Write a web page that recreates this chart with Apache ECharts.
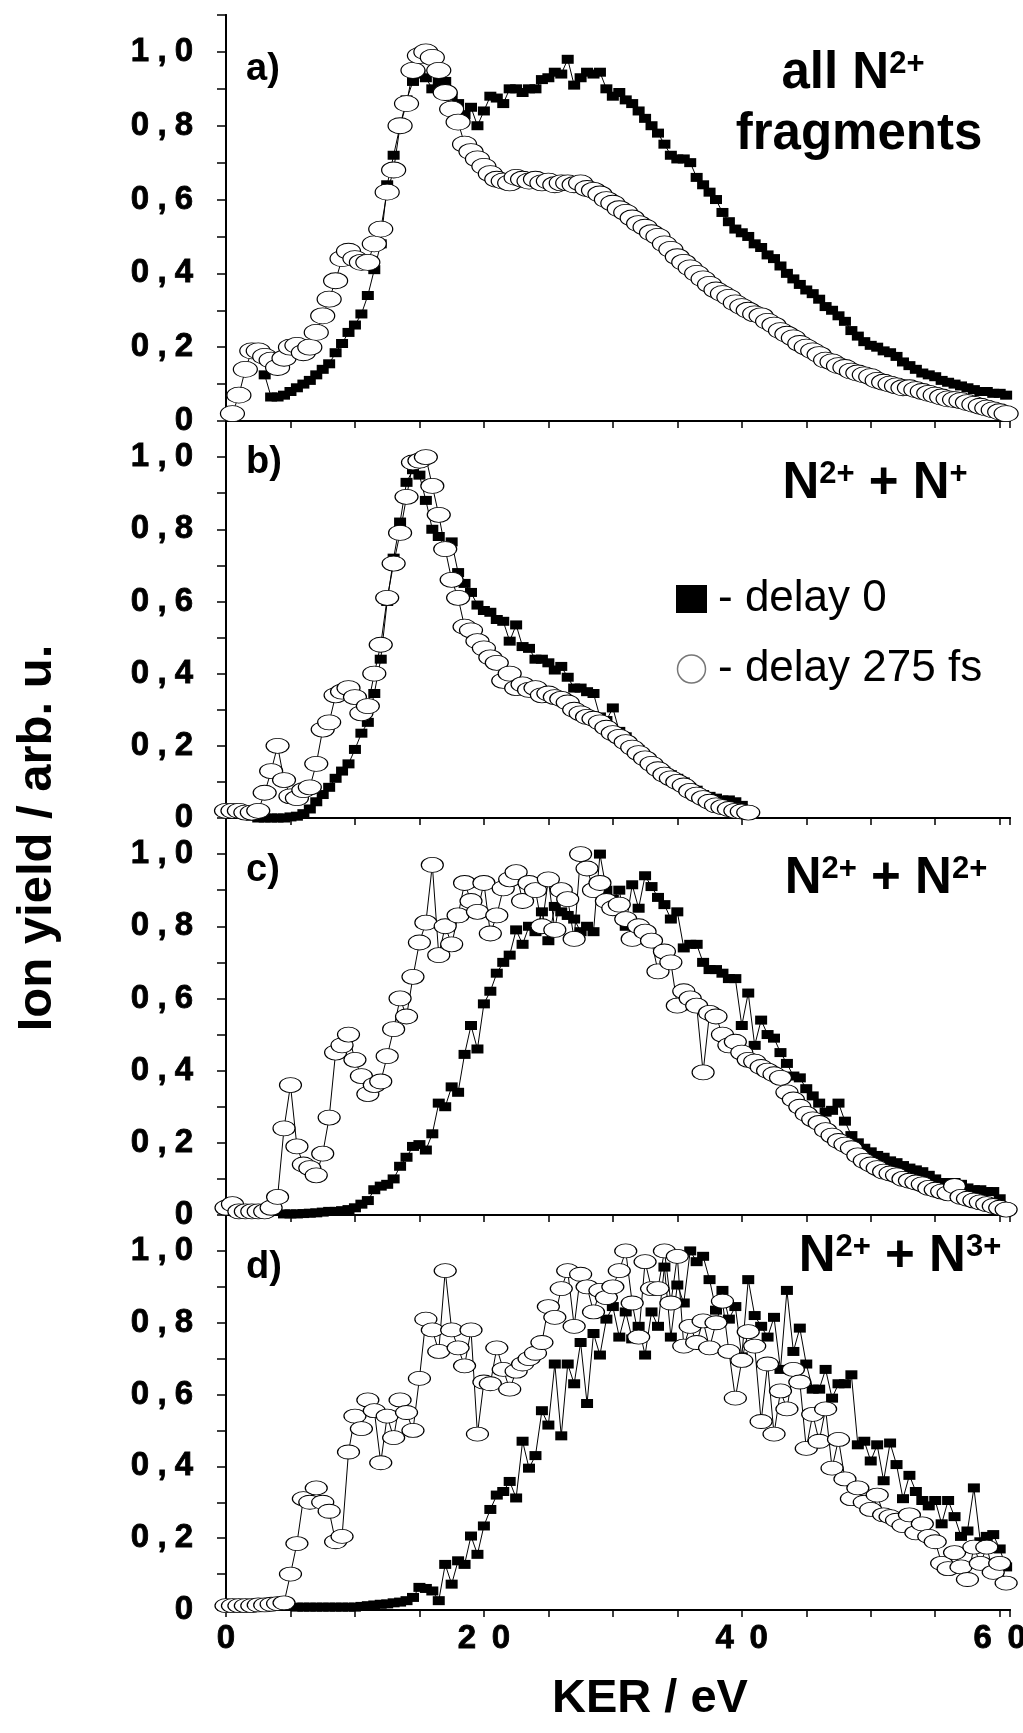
<!DOCTYPE html>
<html>
<head>
<meta charset="utf-8">
<title>Ion yield vs KER</title>
<script src="https://cdn.jsdelivr.net/npm/echarts@6/dist/echarts.min.js"></script>
<style>
  html, body { margin: 0; padding: 0; background: #fff; }
  #chart { width: 1023px; height: 1733px; }
</style>
</head>
<body>
<div id="chart"></div>
<script>
// KER sampling grid (eV)
const ker = [
  0, 0.5, 1, 1.5, 2, 2.5, 3, 3.5, 4, 4.5, 5, 5.5, 6, 6.5, 7, 7.5, 8, 8.5, 9, 9.5,
  10, 10.5, 11, 11.5, 12, 12.5, 13, 13.5, 14, 14.5, 15, 15.5, 16, 16.5, 17, 17.5, 18, 18.5, 19, 19.5,
  20, 20.5, 21, 21.5, 22, 22.5, 23, 23.5, 24, 24.5, 25, 25.5, 26, 26.5, 27, 27.5, 28, 28.5, 29, 29.5,
  30, 30.5, 31, 31.5, 32, 32.5, 33, 33.5, 34, 34.5, 35, 35.5, 36, 36.5, 37, 37.5, 38, 38.5, 39, 39.5,
  40, 40.5, 41, 41.5, 42, 42.5, 43, 43.5, 44, 44.5, 45, 45.5, 46, 46.5, 47, 47.5, 48, 48.5, 49, 49.5,
  50, 50.5, 51, 51.5, 52, 52.5, 53, 53.5, 54, 54.5, 55, 55.5, 56, 56.5, 57, 57.5, 58, 58.5, 59, 59.5,
  60, 60.5, 61
];

const yTickLabels = ['0', '0,2', '0,4', '0,6', '0,8', '1,0'];
const xTickLabels = ['0', '20', '40', '60'];

// a) all N2+ fragments
const delay0A = [ // from 3 eV
  0.125, 0.065, 0.065, 0.07, 0.08, 0.09, 0.10, 0.11, 0.125, 0.14,
  0.155, 0.185, 0.21, 0.24, 0.26, 0.29, 0.34, 0.41, 0.48, 0.64,
  0.72, 0.80, 0.87, 0.92, 0.94, 0.93, 0.90, 0.92, 0.92, 0.88,
  0.86, 0.83, 0.85, 0.80, 0.84, 0.88, 0.875, 0.86, 0.90, 0.90,
  0.89, 0.90, 0.90, 0.925, 0.93, 0.945, 0.94, 0.98, 0.91, 0.93,
  0.945, 0.94, 0.945, 0.90, 0.88, 0.89, 0.87, 0.86, 0.84, 0.82,
  0.80, 0.78, 0.75, 0.72, 0.71, 0.71, 0.70, 0.66, 0.64, 0.62,
  0.60, 0.565, 0.54, 0.52, 0.51, 0.50, 0.48, 0.47, 0.45, 0.44,
  0.42, 0.40, 0.385, 0.37, 0.355, 0.345, 0.33, 0.31, 0.30, 0.285,
  0.27, 0.245, 0.23, 0.215, 0.205, 0.20, 0.19, 0.185, 0.175, 0.16,
  0.15, 0.14, 0.13, 0.125, 0.12, 0.11, 0.105, 0.10, 0.095, 0.09,
  0.085, 0.08, 0.08, 0.075, 0.075, 0.07
];
const delay275A = [ // from 0.5 eV
  0.02, 0.07, 0.14, 0.19, 0.19, 0.175, 0.165, 0.145, 0.17, 0.20,
  0.205, 0.185, 0.20, 0.24, 0.285, 0.33, 0.38, 0.44, 0.46, 0.44,
  0.43, 0.43, 0.48, 0.52, 0.62, 0.68, 0.80, 0.86, 0.95, 0.99,
  1.0, 0.985, 0.95, 0.89, 0.845, 0.81, 0.75, 0.73, 0.71, 0.69,
  0.67, 0.655, 0.65, 0.645, 0.66, 0.655, 0.65, 0.655, 0.645, 0.65,
  0.64, 0.645, 0.645, 0.64, 0.645, 0.63, 0.625, 0.615, 0.60, 0.59,
  0.575, 0.565, 0.55, 0.535, 0.525, 0.51, 0.50, 0.48, 0.465, 0.445,
  0.43, 0.415, 0.40, 0.385, 0.37, 0.355, 0.345, 0.335, 0.32, 0.31,
  0.30, 0.29, 0.285, 0.27, 0.26, 0.245, 0.235, 0.225, 0.21, 0.20,
  0.19, 0.18, 0.165, 0.16, 0.15, 0.145, 0.135, 0.13, 0.125, 0.12,
  0.11, 0.105, 0.10, 0.095, 0.09, 0.09, 0.085, 0.08, 0.075, 0.07,
  0.065, 0.06, 0.058, 0.055, 0.05, 0.045, 0.04, 0.035, 0.03, 0.025,
  0.02
];

// b) N2+ + N+
const delay0B = [ // from 0 eV
  0.02, 0.02, 0.015, 0.01, 0.005, 0.0, 0.0, 0.0, 0.0, 0.0,
  0.003, 0.005, 0.012, 0.025, 0.045, 0.065, 0.085, 0.11, 0.13, 0.15,
  0.19, 0.235, 0.265, 0.345, 0.44, 0.60, 0.72, 0.82, 0.93, 0.965,
  0.95, 0.88, 0.80, 0.78, 0.75, 0.765, 0.68, 0.65, 0.625, 0.59,
  0.575, 0.57, 0.55, 0.545, 0.49, 0.535, 0.475, 0.47, 0.44, 0.44,
  0.43, 0.41, 0.42, 0.39, 0.36, 0.36, 0.35, 0.345, 0.28, 0.27,
  0.305, 0.24, 0.225, 0.19, 0.19, 0.16, 0.155, 0.14, 0.13, 0.12,
  0.11, 0.10, 0.085, 0.077, 0.065, 0.06, 0.055, 0.05, 0.05, 0.045,
  0.035
];
const delay275B = [ // from 0 eV
  0.02, 0.02, 0.02, 0.015, 0.015, 0.02, 0.07, 0.13, 0.20, 0.105,
  0.06, 0.055, 0.077, 0.085, 0.15, 0.245, 0.265, 0.34, 0.35, 0.36,
  0.335, 0.29, 0.31, 0.40, 0.48, 0.61, 0.705, 0.79, 0.89, 0.985,
  0.99, 1.0, 0.92, 0.84, 0.745, 0.66, 0.61, 0.53, 0.52, 0.49,
  0.47, 0.445, 0.43, 0.38, 0.40, 0.36, 0.37, 0.355, 0.36, 0.34,
  0.345, 0.335, 0.33, 0.32, 0.30, 0.29, 0.28, 0.275, 0.265, 0.25,
  0.235, 0.225, 0.21, 0.195, 0.18, 0.165, 0.15, 0.135, 0.12, 0.11,
  0.10, 0.09, 0.075, 0.065, 0.055, 0.045, 0.035, 0.03, 0.025, 0.02,
  0.018, 0.015
];

// c) N2+ + N2+
const delay0C = [ // from 4.5 eV
  0.003, 0.003, 0.003, 0.004, 0.005, 0.006, 0.008, 0.01, 0.01, 0.012,
  0.015, 0.02, 0.03, 0.04, 0.07, 0.08, 0.085, 0.10, 0.135, 0.16,
  0.19, 0.195, 0.18, 0.225, 0.31, 0.30, 0.355, 0.34, 0.445, 0.525,
  0.46, 0.585, 0.62, 0.67, 0.70, 0.72, 0.79, 0.75, 0.80, 0.785,
  0.84, 0.76, 0.855, 0.84, 0.83, 0.82, 0.785, 0.80, 0.785, 1.0,
  0.90, 0.875, 0.90, 0.80, 0.915, 0.85, 0.94, 0.91, 0.88, 0.86,
  0.82, 0.84, 0.74, 0.75, 0.75, 0.70, 0.68, 0.68, 0.67, 0.655,
  0.655, 0.525, 0.615, 0.47, 0.54, 0.50, 0.49, 0.45, 0.42, 0.385,
  0.38, 0.35, 0.33, 0.31, 0.285, 0.29, 0.31, 0.26, 0.22, 0.20,
  0.185, 0.175, 0.165, 0.16, 0.15, 0.145, 0.137, 0.13, 0.125, 0.12,
  0.11, 0.10, 0.09, 0.09, 0.09, 0.085, 0.075, 0.07, 0.07, 0.065,
  0.065, 0.045
];
const delay275C = [ // from 0 eV
  0.02, 0.03, 0.01, 0.01, 0.01, 0.01, 0.01, 0.02, 0.05, 0.24,
  0.36, 0.19, 0.14, 0.13, 0.11, 0.17, 0.27, 0.45, 0.47, 0.50,
  0.43, 0.385, 0.335, 0.36, 0.37, 0.44, 0.515, 0.60, 0.55, 0.66,
  0.755, 0.81, 0.97, 0.72, 0.80, 0.75, 0.83, 0.92, 0.87, 0.84,
  0.92, 0.78, 0.83, 0.905, 0.93, 0.95, 0.87, 0.92, 0.90, 0.80,
  0.93, 0.79, 0.90, 0.875, 0.765, 1.0, 0.96, 0.90, 0.92, 0.87,
  0.85, 0.86, 0.82, 0.765, 0.80, 0.785, 0.76, 0.675, 0.73, 0.70,
  0.58, 0.62, 0.60, 0.58, 0.395, 0.56, 0.55, 0.50, 0.47, 0.48,
  0.45, 0.43, 0.425, 0.41, 0.40, 0.39, 0.38, 0.34, 0.32, 0.30,
  0.28, 0.265, 0.255, 0.235, 0.22, 0.205, 0.195, 0.185, 0.165, 0.15,
  0.14, 0.13, 0.12, 0.115, 0.11, 0.10, 0.095, 0.09, 0.085, 0.075,
  0.07, 0.065, 0.06, 0.08, 0.05, 0.045, 0.04, 0.035, 0.03, 0.025,
  0.02, 0.015
];

// d) N2+ + N3+
const delay0D = [ // from 5.5 eV
  0.008, 0.008, 0.008, 0.008, 0.008, 0.008, 0.008, 0.008, 0.008, 0.008,
  0.01, 0.012, 0.014, 0.016, 0.017, 0.02, 0.022, 0.026, 0.035, 0.063,
  0.06, 0.053, 0.026, 0.127, 0.072, 0.137, 0.127, 0.206, 0.155, 0.234,
  0.28, 0.32, 0.33, 0.358, 0.312, 0.47, 0.395, 0.43, 0.555, 0.515,
  0.685, 0.485, 0.685, 0.63, 0.745, 0.575, 0.77, 0.71, 0.81, 0.845,
  0.76, 0.83, 0.755, 0.79, 0.71, 0.83, 0.79, 0.955, 0.76, 0.905,
  0.855, 1.0, 0.97, 0.985, 0.92, 0.835, 0.89, 0.81, 0.845, 0.705,
  0.92, 0.82, 0.79, 0.76, 0.815, 0.67, 0.89, 0.72, 0.785, 0.685,
  0.615, 0.615, 0.67, 0.59, 0.63, 0.63, 0.655, 0.46, 0.47, 0.415,
  0.46, 0.36, 0.465, 0.405, 0.31, 0.375, 0.33, 0.305, 0.29, 0.305,
  0.24, 0.305, 0.26, 0.205, 0.22, 0.34, 0.19, 0.205, 0.21, 0.17,
  0.12
];
const delay275D = [ // from 0 eV
  0.012, 0.012, 0.012, 0.012, 0.012, 0.014, 0.014, 0.016, 0.018, 0.02,
  0.10, 0.185, 0.31, 0.30, 0.34, 0.30, 0.275, 0.19, 0.205, 0.44,
  0.54, 0.505, 0.585, 0.555, 0.41, 0.54, 0.48, 0.585, 0.55, 0.50,
  0.645, 0.81, 0.78, 0.72, 0.945, 0.78, 0.73, 0.68, 0.78, 0.49,
  0.635, 0.63, 0.73, 0.67, 0.615, 0.665, 0.685, 0.70, 0.715, 0.745,
  0.845, 0.815, 0.895, 0.945, 0.79, 0.935, 0.90, 0.83, 0.89, 0.87,
  0.90, 0.945, 1.0, 0.855, 0.76, 0.97, 0.895, 0.895, 1.0, 0.855,
  0.985, 0.735, 0.79, 0.745, 0.805, 0.73, 0.80, 0.86, 0.72, 0.59,
  0.695, 0.775, 0.735, 0.525, 0.685, 0.49, 0.61, 0.56, 0.67, 0.635,
  0.45, 0.545, 0.47, 0.56, 0.395, 0.475, 0.365, 0.31, 0.34, 0.30,
  0.28, 0.32, 0.265, 0.26, 0.25, 0.235, 0.265, 0.215, 0.24, 0.205,
  0.19, 0.13, 0.115, 0.16, 0.12, 0.085, 0.175, 0.13, 0.175, 0.105,
  0.13, 0.075
];

const FONT = 'Liberation Sans, Arial, Helvetica, sans-serif';

function pairs(values, startKer) {
  const first = ker.indexOf(startKer);
  return values.map((v, i) => [ker[first + i], v]);
}

const panels = [
  { top: 15,   height: 406, d0: pairs(delay0A, 3),   d275: pairs(delay275A, 0.5), sym: [24, 16] },
  { top: 421,  height: 397, d0: pairs(delay0B, 0),   d275: pairs(delay275B, 0),   sym: [23, 15] },
  { top: 818,  height: 397, d0: pairs(delay0C, 4.5), d275: pairs(delay275C, 0),   sym: [22, 15] },
  { top: 1215, height: 395, d0: pairs(delay0D, 5.5), d275: pairs(delay275D, 0),   sym: [22, 14] }
];

function yLabel(v) {
  const tenth = Math.round(v * 10);
  if (tenth % 2 !== 0) return '';
  const s = yTickLabels[tenth / 2];
  if (!s) return '';
  return s.split('').map(ch => ch === ',' ? '{c|,}' : '{d|' + ch + '}').join('');
}

function xLabel(v) {
  if (v % 20 !== 0) return '';
  const s = xTickLabels[v / 20];
  return s ? s.split('').map(ch => '{d|' + ch + '}').join('') : '';
}

const digit = { fontSize: 33, fontWeight: 'bold', fontFamily: FONT, color: '#000',
  textBorderColor: '#000', textBorderWidth: 0.8 };

const grids = [], xAxes = [], yAxes = [], series = [];
panels.forEach((p, k) => {
  const last = k === panels.length - 1;
  grids.push({ left: 226, width: 784, top: p.top, height: p.height, containLabel: false, outerBoundsMode: 'none' });
  // bottom and top x axes
  xAxes.push({
    type: 'value', gridIndex: k, position: 'bottom', min: 0, max: 60.8, interval: 5,
    axisLine: { lineStyle: { color: '#000', width: 2 } },
    axisTick: { inside: false, length: 7, lineStyle: { color: '#000', width: 1.5 } },
    splitLine: { show: false },
    axisLabel: last ? {
      margin: 12, formatter: xLabel,
      rich: { d: Object.assign({ width: 34, align: 'center' }, digit) }
    } : { show: false },
    name: last ? 'KER / eV' : '',
    nameLocation: 'middle', nameGap: 66,
    nameTextStyle: { fontSize: 47, fontWeight: 'bold', fontFamily: FONT, color: '#000', padding: [0, 0, 0, 64] }
  });
  xAxes.push({
    type: 'value', gridIndex: k, position: 'top', min: 0, max: 60.8, interval: 5,
    axisLine: { lineStyle: { color: '#000', width: 2 } },
    axisTick: { inside: true, length: 7, lineStyle: { color: '#000', width: 1.5 } },
    splitLine: { show: false }, axisLabel: { show: false }
  });
  // left and right y axes
  yAxes.push({
    type: 'value', gridIndex: k, position: 'left', min: 0, max: 1.1, interval: 0.1,
    axisLine: { show: true, lineStyle: { color: '#000', width: 2 } },
    axisTick: { show: true, inside: false, length: 9, lineStyle: { color: '#000', width: 1.5 } },
    splitLine: { show: false },
    axisLabel: {
      margin: 30, formatter: yLabel,
      rich: {
        d: Object.assign({ width: 24, align: 'center' }, digit),
        c: Object.assign({ width: 20, align: 'center' }, digit)
      }
    }
  });
  yAxes.push({
    type: 'value', gridIndex: k, position: 'right', min: 0, max: 1.1, interval: 0.1,
    axisLine: { show: true, lineStyle: { color: '#000', width: 2 } },
    axisTick: { show: true, inside: true, length: 9, lineStyle: { color: '#000', width: 1.5 } },
    splitLine: { show: false }, axisLabel: { show: false }
  });
  series.push({
    name: 'delay 0', type: 'line', xAxisIndex: 2 * k, yAxisIndex: 2 * k,
    data: p.d0, symbol: 'rect', symbolSize: [12, 9], showAllSymbol: true,
    itemStyle: { color: '#000' }, lineStyle: { color: '#000', width: 1 }, z: 2
  });
  series.push({
    name: 'delay 275 fs', type: 'line', xAxisIndex: 2 * k, yAxisIndex: 2 * k,
    data: p.d275, symbol: 'circle', symbolSize: p.sym, showAllSymbol: true,
    itemStyle: { color: '#fff', borderColor: '#000', borderWidth: 1 },
    lineStyle: { color: '#000', width: 1 }, z: 3
  });
});

const big = { fontSize: 51, fontWeight: 'bold', fontFamily: FONT, fill: '#000' };
const sup = { s: { fontSize: 31, fontWeight: 'bold', fontFamily: FONT, fill: '#000', verticalAlign: 'top' } };

function annotation(text, x, y, align) {
  return { type: 'text', x: x, y: y, z: 10,
    style: Object.assign({ text: text, align: align || 'center', verticalAlign: 'middle', rich: sup }, big) };
}
function panelLabel(text, y) {
  return { type: 'text', x: 246, y: y, z: 10,
    style: { text: text, fontSize: 38, fontWeight: 'bold', fontFamily: FONT, fill: '#000', align: 'left', verticalAlign: 'middle' } };
}

const chart = echarts.init(document.getElementById('chart'));
chart.setOption({
  animation: false,
  backgroundColor: '#fff',
  grid: grids,
  xAxis: xAxes,
  yAxis: yAxes,
  series: series,
  legend: {
    orient: 'vertical', left: 671, top: 572, itemWidth: 31, itemHeight: 28, itemGap: 26,
    symbolKeepAspect: false, selectedMode: false,
    formatter: name => '- ' + name,
    textStyle: { fontSize: 44, fontFamily: FONT, color: '#000', padding: [0, 0, 0, 6] },
    data: [
      { name: 'delay 0', icon: 'rect', itemStyle: { color: '#000', borderWidth: 0 } },
      { name: 'delay 275 fs', icon: 'circle', itemStyle: { color: '#fff', borderColor: '#777', borderWidth: 1.5 } }
    ]
  },
  graphic: [
    { type: 'text', x: 37, y: 838, rotation: Math.PI / 2, z: 10,
      style: { text: 'Ion yield / arb. u.', fontSize: 49, fontWeight: 'bold', fontFamily: FONT, fill: '#000', align: 'center', verticalAlign: 'middle' } },
    annotation('all N{s|2+}', 853, 74),
    annotation('fragments', 859, 135),
    annotation('N{s|2+} + N{s|+}', 875, 484),
    annotation('N{s|2+} + N{s|2+}', 886, 879),
    annotation('N{s|2+} + N{s|3+}', 900, 1257),
    panelLabel('a)', 70),
    panelLabel('b)', 463),
    panelLabel('c)', 871),
    panelLabel('d)', 1268)
  ]
});
</script>
</body>
</html>
